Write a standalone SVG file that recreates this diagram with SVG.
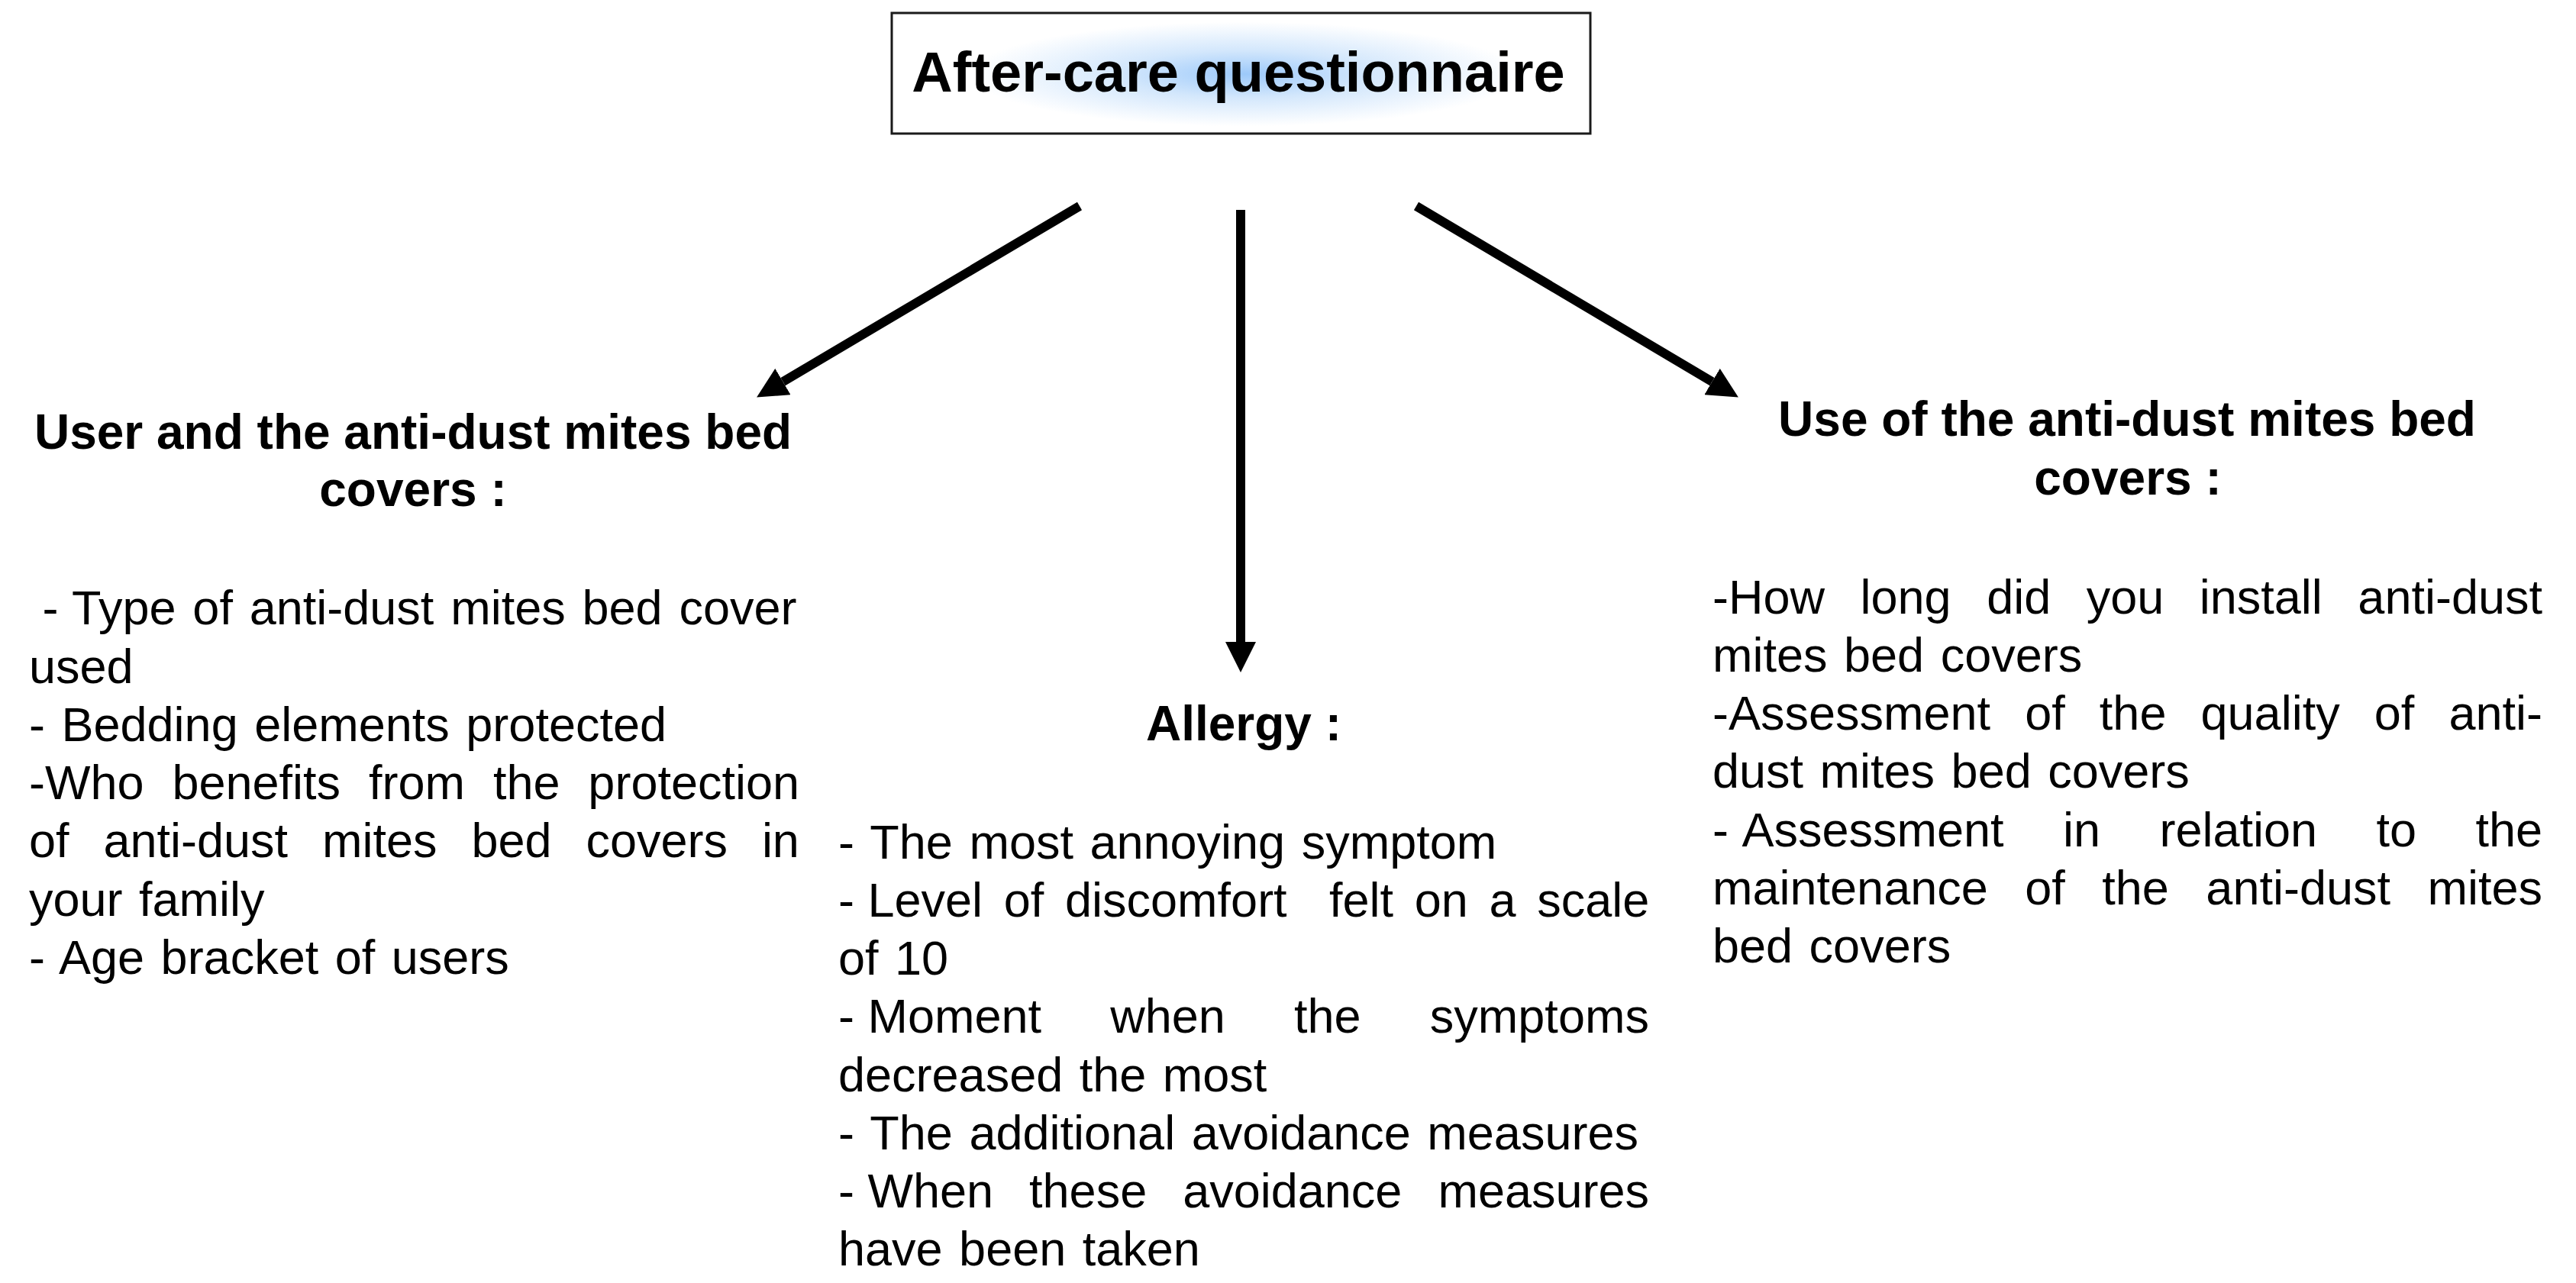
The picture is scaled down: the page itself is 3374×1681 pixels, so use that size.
<svg xmlns="http://www.w3.org/2000/svg" width="3374" height="1681" viewBox="0 0 3374 1681">
<defs>
<radialGradient id="glow" cx="1630" cy="97" r="360" gradientUnits="userSpaceOnUse" gradientTransform="translate(1630 97) scale(1 0.19) translate(-1630 -97)">
<stop offset="0" stop-color="#9cc9fa"/>
<stop offset="0.45" stop-color="#d3e7fc"/>
<stop offset="1" stop-color="#ffffff"/>
</radialGradient>
<marker id="head" markerUnits="userSpaceOnUse" viewBox="0 0 40 40" refX="0" refY="20" markerWidth="40" markerHeight="40" orient="auto">
<path d="M0,0 L40,20 L0,40 Z" fill="#000"/>
</marker>
<style>
.t{font-family:"Liberation Sans",Arial,sans-serif;fill:#000}
.body{font-size:63px}
.nj{word-spacing:4px}
.head{font-size:64px;font-weight:bold;text-anchor:middle}
.title{font-size:74px;font-weight:bold;text-anchor:middle}
.conn{stroke:#000;stroke-width:12;fill:none;marker-end:url(#head)}
</style>
</defs>
<rect width="3374" height="1681" fill="#fff"/>

<g id="node-title">
<rect x="1168" y="17" width="915" height="158" fill="#fff" stroke="#1a1a1a" stroke-width="3"/>
<rect x="1170" y="19" width="911" height="154" fill="url(#glow)"/>
<text class="t title" x="1622" y="120">After-care questionnaire</text>
</g>

<g id="connectors">
<line class="conn" x1="1414" y1="270" x2="1025.5" y2="500.1"/>
<line class="conn" x1="1625" y1="275" x2="1625" y2="841"/>
<line class="conn" x1="1855" y1="270" x2="2242.5" y2="500.1"/>
</g>

<g id="node-user" class="t">
<text class="head" x="541" y="588">User and the anti-dust mites bed</text>
<text class="head" x="541" y="663">covers :</text>
<text class="body" x="55.5" y="818"><tspan style="word-spacing:0">- </tspan><tspan style="word-spacing:4.3px">Type of anti-dust mites bed cover</tspan></text>
<text class="body nj" x="38" y="895">used</text>
<text class="body nj" x="38" y="971">- Bedding elements protected</text>
<text class="body" x="38" y="1047" style="word-spacing:19.4px">-Who benefits from the protection</text>
<text class="body" x="38" y="1123" style="word-spacing:27.4px">of anti-dust mites bed covers in</text>
<text class="body nj" x="38" y="1200">your family</text>
<text class="body nj" x="38" y="1276">- Age bracket of users</text>
</g>

<g id="node-allergy" class="t">
<text class="head" x="1629" y="970">Allergy :</text>
<text class="body nj" x="1098" y="1125">- The most annoying symptom</text>
<text class="body" x="1098" y="1201" xml:space="preserve"><tspan style="word-spacing:0">- </tspan><tspan style="word-spacing:10.2px">Level of discomfort  felt on a scale</tspan></text>
<text class="body nj" x="1098" y="1277">of 10</text>
<text class="body" x="1098" y="1353"><tspan style="word-spacing:0">- </tspan><tspan style="word-spacing:72.7px">Moment when the symptoms</tspan></text>
<text class="body nj" x="1098" y="1430">decreased the most</text>
<text class="body nj" x="1098" y="1506">- The additional avoidance measures</text>
<text class="body" x="1098" y="1582"><tspan style="word-spacing:0">- </tspan><tspan style="word-spacing:29.5px">When these avoidance measures</tspan></text>
<text class="body nj" x="1098" y="1658">have been taken</text>
</g>

<g id="node-use" class="t">
<text class="head" x="2786" y="571">Use of the anti-dust mites bed</text>
<text class="head" x="2787" y="648">covers :</text>
<text class="body" x="2243" y="804" style="word-spacing:29px">-How long did you install anti-dust</text>
<text class="body nj" x="2243" y="880">mites bed covers</text>
<text class="body" x="2243" y="956" style="word-spacing:27.6px">-Assessment of the quality of anti-</text>
<text class="body nj" x="2243" y="1032">dust mites bed covers</text>
<text class="body" x="2243" y="1109"><tspan style="word-spacing:0">- </tspan><tspan style="word-spacing:59.9px">Assessment in relation to the</tspan></text>
<text class="body" x="2243" y="1185" style="word-spacing:31px">maintenance of the anti-dust mites</text>
<text class="body nj" x="2243" y="1261">bed covers</text>
</g>
</svg>
